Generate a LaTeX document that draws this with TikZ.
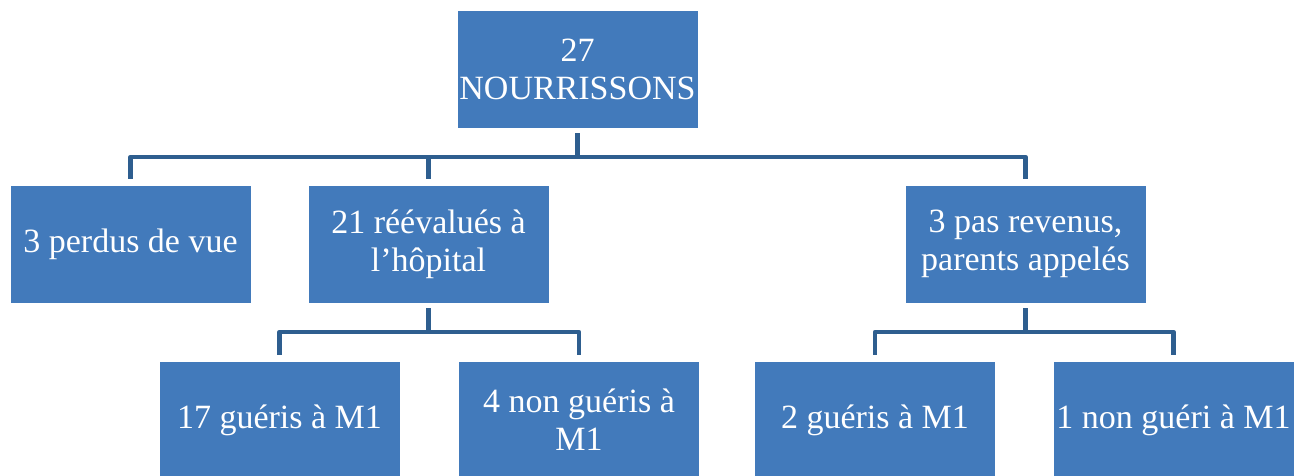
\documentclass[tikz,border=0pt]{standalone}
\usepackage{fontspec}
\setmainfont{Liberation Serif}
\newfontfamily\boxfont{Liberation Serif}
\definecolor{boxblue}{RGB}{66,122,187}
\definecolor{lineblue}{RGB}{46,94,143}
\tikzset{
  orgbox/.style={rectangle, fill=boxblue, draw=white, line width=0.8pt, minimum width=241pt, minimum height=118pt, inner sep=0pt, text=white, align=center, font=\boxfont\fontsize{34pt}{38pt}\selectfont},
  conn/.style={draw=lineblue, line width=4.5pt, line cap=butt, line join=round}
}
\begin{document}
\begin{tikzpicture}[x=1pt,y=-1pt]
\useasboundingbox (0,0) rectangle (1304,475);
\begin{scope}
\clip (0,0) rectangle (1304,475);
\node[orgbox] (top) at (577.5,69) {27\\\makebox[0pt]{NOURRISSONS}};
\node[orgbox] (a) at (130.5,244) {3 perdus de vue};
\node[orgbox] (b) at (428.5,244) {21 réévalués à\\l’hôpital};
\node[orgbox] (c) at (1025.5,244) {3 pas revenus,\\parents appelés};
\node[orgbox] (d) at (279.5,420) {17 guéris à M1};
\node[orgbox] (e) at (579,420) {4 non guéris à\\M1};
\node[orgbox] (f) at (875,420) {2 guéris à M1};
\node[orgbox] (g) at (1173.5,420) {1 non guéri à M1};
\coordinate (bus1) at (0,157);
\coordinate (bus2) at (0,332);
\draw[conn] ([yshift=-5pt]top.south) |- (bus1 -| a) -- ([yshift=6pt]a.north);
\draw[conn] (top.south |- bus1) -| ([yshift=6pt]b.north);
\draw[conn] (top.south |- bus1) -| ([yshift=6pt]c.north);
\draw[conn] ([yshift=-5pt]b.south) |- (bus2 -| d) -- ([yshift=6pt]d.north);
\draw[conn] (b.south |- bus2) -| ([yshift=6pt]e.north);
\draw[conn] ([yshift=-5pt]c.south) |- (bus2 -| f) -- ([yshift=6pt]f.north);
\draw[conn] (c.south |- bus2) -| ([yshift=6pt]g.north);
\end{scope}
\end{tikzpicture}
\end{document}
